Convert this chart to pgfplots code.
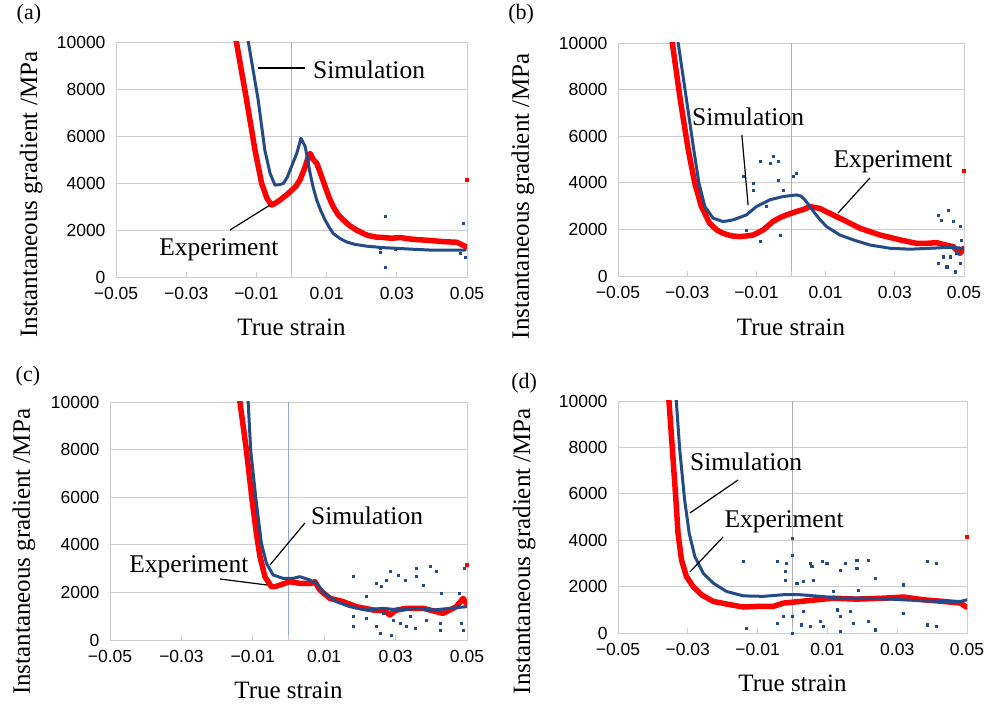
\documentclass[border=0pt]{standalone}
\usepackage{fontspec}
\setmainfont{Liberation Serif}
\setsansfont{Liberation Sans}
\usepackage{pgfplots}
\pgfplotsset{compat=1.18}
\definecolor{simblue}{RGB}{35,75,135}
\definecolor{expred}{RGB}{255,0,0}
\definecolor{gridgray}{RGB}{205,205,205}
\definecolor{zerogray}{RGB}{175,175,175}
\definecolor{zeroblue}{RGB}{140,170,220}
\tikzset{
  redline/.style={draw=expred, line width=5.5bp, line join=round, line cap=round},
  blueline/.style={draw=simblue, line width=3bp, line join=round, line cap=round},
  annot/.style={font=\fontsize{25.5bp}{28bp}\selectfont},
}
\pgfplotsset{
  bluedots/.style={only marks, mark=square*, mark size=1.05bp, mark options={draw=simblue, fill=simblue}},
  reddots/.style={only marks, mark=square*, mark size=1.5bp, mark options={draw=expred, fill=expred}},
  panel/.style={
    scale only axis,
    anchor=south west,
    xmin=-0.05, xmax=0.05, ymin=0, ymax=10000,
    xtick={-0.05,-0.03,-0.01,0.01,0.03,0.05},
    xticklabels={−0.05,−0.03,−0.01,0.01,0.03,0.05},
    ytick={0,2000,4000,6000,8000,10000},
    yticklabels={0,2000,4000,6000,8000,10000},
    scaled ticks=false,
    tick label style={font=\fontsize{17.5bp}{17.5bp}\sffamily},
    xticklabel style={yshift=-7bp},
    yticklabel style={xshift=-7bp},
    xtick pos=bottom, ytick pos=left,
    tick align=inside,
    major tick length=5bp,
    x tick style={draw=gridgray, line width=0.8bp},
    y tick style={draw=none},
    ymajorgrids,
    major grid style={draw=gridgray, line width=0.9bp},
    axis line style={draw=gridgray, line width=0.9bp},
    label style={font=\fontsize{25bp}{28bp}\selectfont},
    xlabel={True strain},
    ylabel={Instantaneous gradient /MPa},
    extra x ticks={0},
    extra x tick labels={},
    extra x tick style={grid=major, tick style={draw=none}, major grid style={draw=zerogray, line width=1bp}},
    clip mode=individual,
  },
}
\begin{document}
\begin{tikzpicture}
\useasboundingbox (0,0) rectangle (985bp,705bp);
% ---------------- (a)
\begin{axis}[panel, at={(116bp,428bp)}, width=351bp, height=235bp,
  xlabel style={at={(axis description cs:0.5,-0.213)}, anchor=center},
  ylabel style={at={(axis description cs:-0.242,0.35)}, anchor=center}]
\addplot[redline] coordinates {(-0.0169,11000) (-0.0157,10000) (-0.0128,7540) (-0.0104,5400) (-0.0085,3980) (-0.0070,3350) (-0.0057,3060) (-0.0045,3150) (-0.0033,3270) (-0.0015,3480) (-0.0004,3630) (0.0012,3850) (0.0024,4125) (0.0038,4650) (0.0048,5120) (0.0053,5260) (0.0062,5000) (0.0072,4840) (0.0084,4350) (0.0096,3840) (0.0108,3350) (0.0119,2990) (0.0133,2650) (0.0148,2420) (0.0166,2180) (0.0186,1990) (0.0215,1780) (0.0240,1700) (0.0262,1680) (0.0285,1650) (0.031,1680) (0.0335,1620) (0.0357,1590) (0.038,1570) (0.0405,1540) (0.043,1510) (0.0452,1490) (0.047,1480) (0.0485,1380) (0.0498,1280)};
\addplot[reddots] coordinates {(0.05,4150)};
\addplot[blueline] coordinates {(-0.0134,11000) (-0.0123,10000) (-0.0095,7540) (-0.0076,5400) (-0.0061,4410) (-0.0047,3910) (-0.0035,3930) (-0.0023,3980) (-0.0012,4250) (-0.0004,4550) (0.0015,5260) (0.0027,5900) (0.0039,5550) (0.0046,5000) (0.0053,4410) (0.0062,3800) (0.0072,3270) (0.0084,2800) (0.0096,2420) (0.0108,2100) (0.0119,1850) (0.0138,1640) (0.0157,1490) (0.018,1390) (0.0215,1310) (0.026,1250) (0.031,1210) (0.036,1170) (0.0405,1140) (0.045,1140) (0.0495,1140)};
\addplot[bluedots] coordinates {(0.0267,2590) (0.0267,430) (0.0253,1210) (0.049,2300) (0.0495,850) (0.0253,1050) (0.0295,1200) (0.048,1000)};
\draw[line width=1.2bp] (axis cs:-0.0095,8894) -- (axis cs:0.0038,8894);
\node[annot] at (axis cs:0.0221,8809) {Simulation};
\draw[line width=1.2bp] (axis cs:-0.0175,2000) -- (axis cs:-0.0061,3064);
\node[annot] at (axis cs:-0.0207,1149) {Experiment};
\node[font=\fontsize{22bp}{24bp}\selectfont] at (rel axis cs:-0.248,1.119) {(a)};
\end{axis}
% ---------------- (b)
\begin{axis}[panel, at={(618bp,429bp)}, width=346bp, height=233bp,
  xlabel style={at={(axis description cs:0.5,-0.219)}, anchor=center},
  ylabel style={at={(axis description cs:-0.275,0.343)}, anchor=center}]
\addplot[redline] coordinates {(-0.0352,11000) (-0.0343,10000) (-0.032,7560) (-0.0297,5415) (-0.0278,3980) (-0.0259,2980) (-0.0235,2260) (-0.0215,1980) (-0.0196,1830) (-0.0172,1720) (-0.0148,1690) (-0.0128,1720) (-0.0109,1760) (-0.008,1980) (-0.0052,2340) (-0.0030,2520) (-0.0013,2620) (0.0016,2770) (0.0035,2850) (0.0055,2980) (0.0083,2900) (0.0112,2690) (0.0151,2410) (0.0199,2050) (0.0257,1760) (0.0315,1550) (0.0363,1400) (0.039,1400) (0.0421,1430) (0.045,1320) (0.0469,1260) (0.0488,970) (0.05,1190)};
\addplot[reddots] coordinates {(0.05,4510)};
\addplot[blueline] coordinates {(-0.0336,11000) (-0.0326,10000) (-0.0302,7560) (-0.0281,5415) (-0.0266,3980) (-0.0249,2980) (-0.0225,2480) (-0.0196,2335) (-0.0167,2410) (-0.0129,2620) (-0.01,2980) (-0.0061,3270) (-0.0023,3410) (0.0016,3480) (0.003,3420) (0.004,3270) (0.0055,2980) (0.0069,2690) (0.0086,2380) (0.0103,2120) (0.0141,1760) (0.018,1550) (0.0228,1330) (0.0286,1190) (0.0344,1150) (0.0402,1190) (0.046,1230) (0.05,1190)};
\addplot[bluedots] coordinates {(-0.009,4914) (-0.0061,4840) (-0.0052,5130) (-0.0037,4910) (-0.0037,4130) (-0.0138,4270) (-0.0109,3980) (-0.0109,3700) (0.0016,4410) (0.0006,4270) (-0.0129,1980) (-0.009,1480) (-0.0032,1760) (-0.0071,2980) (-0.0023,3700) (0.0426,2620) (0.0455,2840) (0.0435,2410) (0.0469,2335) (0.0488,2120) (0.0426,544) (0.045,400) (0.0474,186) (0.0488,544) (0.046,830) (0.0479,970) (0.0441,830) (0.0493,1550)};
\draw[line width=1.2bp] (axis cs:-0.0142,6052) -- (axis cs:-0.0124,3047);
\node[annot] at (axis cs:-0.0124,6824) {Simulation};
\draw[line width=1.2bp] (axis cs:0.0228,4206) -- (axis cs:0.0136,2704);
\node[annot] at (axis cs:0.0295,4893) {Experiment};
\node[font=\fontsize{22bp}{24bp}\selectfont] at (rel axis cs:-0.28,1.124) {(b)};
\end{axis}
% ---------------- (c)
\begin{axis}[panel, at={(110bp,65bp)}, width=357bp, height=238bp,
  extra x tick style={grid=major, tick style={draw=none}, major grid style={draw=zeroblue, line width=1bp}},
  xlabel style={at={(axis description cs:0.5,-0.21)}, anchor=center},
  ylabel style={at={(axis description cs:-0.241,0.37)}, anchor=center}]
\addplot[redline] coordinates {(-0.0145,11000) (-0.0136,10000) (-0.0118,7990) (-0.0102,5890) (-0.009,4490) (-0.008,3510) (-0.0066,2660) (-0.0048,2240) (-0.0036,2250) (-0.0024,2310) (0.0004,2450) (0.0032,2380) (0.0064,2380) (0.0074,2450) (0.0088,2100) (0.0116,1750) (0.0153,1610) (0.019,1400) (0.0237,1260) (0.027,1220) (0.0284,1050) (0.030,1250) (0.033,1330) (0.0377,1330) (0.0433,1120) (0.047,1400) (0.0489,1750) (0.0498,1540)};
\addplot[reddots] coordinates {(0.05,3160)};
\addplot[blueline] coordinates {(-0.0116,11000) (-0.0113,10000) (-0.0106,7990) (-0.0091,5890) (-0.0076,4070) (-0.0062,3230) (-0.0043,2730) (-0.0015,2590) (0.0013,2590) (0.0032,2660) (0.006,2520) (0.0078,2380) (0.0102,1960) (0.0134,1610) (0.0172,1400) (0.0218,1260) (0.0265,1330) (0.0312,1260) (0.0358,1330) (0.0405,1260) (0.0452,1330) (0.0498,1400)};
\addplot[bluedots] coordinates {(0.0181,2665) (0.0246,2384) (0.026,2244) (0.0284,2875) (0.0307,2735) (0.0326,2524) (0.0358,3015) (0.0358,2665) (0.0396,3085) (0.0414,2875) (0.0377,2314) (0.0274,2524) (0.0218,1823) (0.0181,982) (0.0181,561) (0.0246,561) (0.0256,280) (0.0288,210) (0.0293,842) (0.0312,701) (0.033,561) (0.0354,491) (0.0386,842) (0.0424,701) (0.0424,421) (0.0428,1963) (0.0484,701) (0.0489,421) (0.0479,1963) (0.0493,3015) (0.0265,1122) (0.0218,912) (0.034,982)};
\draw[line width=1.2bp] (axis cs:0.0046,4916) -- (axis cs:-0.0052,3151);
\node[annot] at (axis cs:0.022,5210) {Simulation};
\draw[line width=1.2bp] (axis cs:-0.0192,2563) -- (axis cs:-0.006,2311);
\node[annot] at (axis cs:-0.0279,3067) {Experiment};
\node[font=\fontsize{22bp}{24bp}\selectfont] at (rel axis cs:-0.23,1.109) {(c)};
\end{axis}
% ---------------- (d)
\begin{axis}[panel, at={(618bp,72bp)}, width=349bp, height=232bp,
  xlabel style={at={(axis description cs:0.5,-0.216)}, anchor=center},
  ylabel style={at={(axis description cs:-0.269,0.353)}, anchor=center}]
\addplot[redline] coordinates {(-0.0359,11000) (-0.0354,10000) (-0.0344,7880) (-0.0334,5730) (-0.0328,4300) (-0.0318,3150) (-0.0304,2435) (-0.0285,2006) (-0.0261,1650) (-0.0227,1360) (-0.0179,1220) (-0.0141,1120) (-0.0093,1150) (-0.0055,1150) (-0.0026,1290) (0.0022,1360) (0.0069,1430) (0.0117,1500) (0.0184,1460) (0.0261,1500) (0.0318,1550) (0.0376,1430) (0.0433,1360) (0.0481,1290) (0.0498,1120)};
\addplot[reddots] coordinates {(0.05,4130)};
\addplot[blueline] coordinates {(-0.0338,11000) (-0.0333,10000) (-0.0323,7880) (-0.0309,5730) (-0.0296,4300) (-0.028,3300) (-0.0256,2580) (-0.0227,2150) (-0.0189,1790) (-0.0141,1600) (-0.0084,1580) (-0.0026,1650) (0.0022,1650) (0.0079,1580) (0.0136,1500) (0.0203,1500) (0.028,1460) (0.0356,1400) (0.0423,1360) (0.0481,1360) (0.05,1430)};
\addplot[bluedots] coordinates {(-0.0141,3080) (-0.0045,3080) (0.0,4080) (0.0,3370) (-0.0017,3010) (-0.0022,2650) (-0.0022,2290) (0.005,2990) (0.0055,2870) (0.0084,3080) (0.0098,3010) (0.0136,2720) (0.0151,3010) (0.0184,3150) (0.0218,3120) (0.0184,2790) (0.0237,2360) (0.0318,2080) (0.0385,3080) (0.0412,3010) (0.0189,1860) (-0.0132,215) (-0.0045,430) (0.0,0) (0.0,716) (0.0026,358) (0.005,287) (0.0079,501) (0.0089,287) (0.0136,72) (0.0136,716) (0.0175,430) (0.0218,501) (0.0237,143) (0.0318,860) (0.0385,358) (0.0412,287) (-0.0026,716) (0.0031,931) (0.0127,1003) (0.0165,931) (0.0012,2150) (0.0031,2220) (0.0117,1790) (0.006,2290)};
\draw[line width=1.2bp] (axis cs:-0.0156,6595) -- (axis cs:-0.0294,5172);
\node[annot] at (axis cs:-0.0133,7371) {Simulation};
\draw[line width=1.2bp] (axis cs:-0.0199,4138) -- (axis cs:-0.0294,2629);
\node[annot] at (axis cs:-0.0024,4784) {Experiment};
\node[font=\fontsize{22bp}{24bp}\selectfont] at (rel axis cs:-0.269,1.078) {(d)};
\end{axis}
\end{tikzpicture}
\end{document}
